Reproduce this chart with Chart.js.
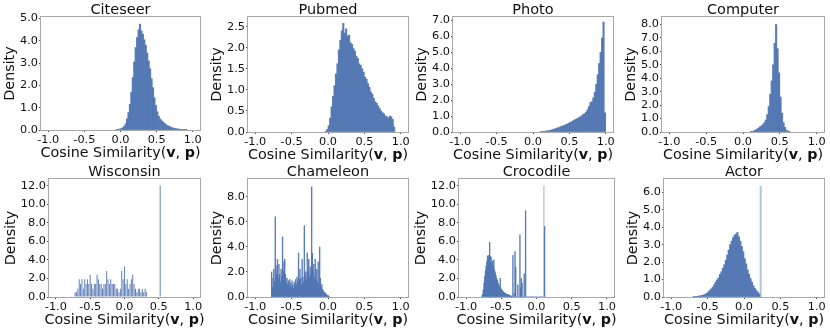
<!DOCTYPE html>
<html>
<head>
<meta charset="utf-8">
<script src="https://cdn.jsdelivr.net/npm/chart.js@4.4.0/dist/chart.umd.min.js"></script>
<style>
  body { margin: 0; background: #fff; }
  #wrap { position: relative; width: 830px; height: 331px; }
  .panel { position: absolute; }
</style>
</head>
<body>
<div id="wrap"></div>
<script>
// ===== data (density per bin) =====
const coarseBin = 0.02;
const fineBin = 0.01;
const xTicks = [-1, -0.5, 0, 0.5, 1];

const citeseerStart = -0.06;
const citeseerDensity = [0.03, 0.02, 0.05, 0.06, 0.1, 0.16, 0.28, 0.5, 0.78, 1.15, 1.7, 2.35, 3.05, 3.7, 4.15, 4.5, 4.75, 4.45, 4.3, 4.05, 3.8, 3.45, 3.1, 2.75, 2.3, 1.9, 1.45, 1.1, 0.82, 0.62, 0.5, 0.42, 0.36, 0.3, 0.24, 0.2, 0.17, 0.14, 0.11, 0.09, 0.07, 0.06, 0.05, 0.04, 0.03, 0.03, 0.02, 0.02, 0.01];
const citeseerTicks = [0, 1, 2, 3, 4, 5];

const pubmedStart = -0.04;
const pubmedDensity = [0.02, 0.06, 0.15, 0.33, 0.6, 0.85, 1.1, 1.38, 1.62, 1.95, 2.18, 2.4, 2.58, 2.35, 2.45, 2.28, 2.3, 2.12, 2.08, 1.98, 1.92, 1.8, 1.75, 1.62, 1.58, 1.5, 1.42, 1.3, 1.25, 1.15, 1.06, 0.95, 0.9, 0.8, 0.72, 0.68, 0.62, 0.56, 0.5, 0.46, 0.43, 0.38, 0.36, 0.33, 0.38, 0.36, 0.3, 0.12];
const pubmedTicks = [0, 0.5, 1, 1.5, 2, 2.5];

const photoStart = 0.10;
const photoDensity = [0.02, 0.03, 0.04, 0.05, 0.07, 0.08, 0.1, 0.12, 0.15, 0.18, 0.21, 0.24, 0.28, 0.31, 0.35, 0.38, 0.42, 0.46, 0.5, 0.55, 0.6, 0.64, 0.7, 0.75, 0.8, 0.85, 0.9, 0.96, 1.02, 1.1, 1.15, 1.25, 1.4, 1.6, 1.85, 1.9, 2.15, 2.5, 3.0, 3.6, 4.3, 5.0, 5.9, 6.9, 1.2];
const photoTicks = [0, 1, 2, 3, 4, 5, 6, 7];

const computerStart = 0.10;
const computerDensity = [0.02, 0.05, 0.1, 0.15, 0.22, 0.3, 0.38, 0.45, 0.55, 0.7, 0.9, 1.3, 1.9, 2.8, 3.8, 5.0, 6.6, 8.0, 6.2, 4.4, 2.6, 1.4, 0.7, 0.35, 0.15, 0.08, 0.03];
const computerTicks = [0, 1, 2, 3, 4, 5, 6, 7, 8];

const wisconsinStart = -0.73;
const wisconsinDensity = [0.5, 0.5, 0.9, 1.9, 1.4, 1.9, 0.9, 1.9, 1.4, 1.9, 1.4, 2.4, 1.4, 0.9, 1.4, 1.4, 2.4, 1.9, 1.4, 1.4, 0.9, 1.4, 1.4, 2.8, 1.9, 1.4, 1.9, 1.4, 1.4, 1.4, 0.9, 0.9, 0.5, 0.9, 2.8, 1.9, 3.3, 1.4, 1.9, 0.9, 1.4, 1.9, 2.4, 1.4, 0.9, 0.5, 0.9, 0.9, 0.5, 0.9, 0.5, 0.9, 0.5, 0, 0, 0, 0, 0, 0, 0, 0, 0, 12.0];
const wisconsinTicks = [0, 2, 4, 6, 8, 10, 12];

const chameleonStart = -0.78;
const chameleonDensity = [2.0, 0.8, 1.5, 2.2, 1.2, 6.4, 2.5, 1.8, 3.0, 1.5, 2.6, 1.8, 1.2, 2.2, 1.6, 4.8, 2.0, 2.8, 3.0, 1.8, 1.2, 1.5, 1.0, 1.3, 0.9, 1.4, 1.1, 0.8, 1.3, 1.0, 0.7, 1.2, 0.9, 1.4, 1.0, 1.6, 1.2, 3.5, 1.4, 2.2, 1.5, 1.0, 3.0, 1.6, 1.2, 5.7, 1.8, 2.0, 1.4, 3.5, 2.0, 3.0, 1.6, 2.4, 1.8, 8.8, 3.5, 2.0, 2.6, 1.6, 3.0, 1.4, 2.2, 1.2, 2.8, 1.0, 4.0, 1.5, 0.8, 1.0, 0.6, 0.5, 0.4, 0.35, 0.3, 0.2, 0.15, 0.1, 0.1, 0.05];
const chameleonTicks = [0, 2, 4, 6, 8];

const crocodileStart = -0.78;
const crocodileDensity = [0.1, 0.3, 0.8, 1.5, 2.2, 2.8, 3.3, 3.8, 4.4, 4.5, 4.2, 5.9, 4.4, 4.3, 3.6, 3.9, 3.3, 4.0, 2.9, 2.6, 2.3, 2.0, 1.8, 1.5, 1.3, 1.1, 2.0, 0.9, 0.8, 0.7, 0.6, 0.5, 0.45, 0.4, 0.35, 0.3, 0.3, 0.25, 0.2, 0.2, 0.15, 0.1, 0.1, 0.05, 4.5, 0, 0.4, 4.9, 3.2, 0, 0, 1.3, 0, 0, 6.7, 1.0, 2.0, 1.5, 0, 0, 2.5, 0, 9.3, 0, 0, 0, 0, 0, 0, 0, 0, 0, 0, 0, 0, 0, 0, 0, 0, 0, 0, 0, 0, 0, 0, 0, 0, 0, 12.0, 7.6];
const crocodileTicks = [0, 2, 4, 6, 8, 10, 12];

const actorStart = -0.70;
const actorDensity = [0.02, 0.03, 0.04, 0.05, 0.06, 0.08, 0.1, 0.13, 0.17, 0.22, 0.3, 0.38, 0.47, 0.57, 0.7, 0.85, 0.98, 1.1, 1.3, 1.45, 1.65, 1.85, 2.1, 2.4, 2.7, 3.0, 3.2, 3.4, 3.55, 3.6, 3.7, 3.45, 3.2, 2.9, 2.6, 2.2, 1.9, 1.55, 1.3, 1.05, 0.85, 0.65, 0.5, 0.38, 0.28, 0.18, 6.35];
const actorTicks = [0, 1, 2, 3, 4, 5, 6];

// ===== layout: canvas cells and plot areas (page px) =====
const colEdges = [0, 205, 412, 618, 830];
const rowEdges = [0, 165, 331];
const FONT = '"DejaVu Sans", sans-serif';
const BAR = 'rgba(76, 114, 176, 0.92)';
const BAR_LIGHT = 'rgba(76, 114, 176, 0.4)';
const FRAME = '#a8a8a8';
const Y_AXIS_W = 30;
const X_AXIS_H = 20;

const panels = [
  { title: 'Citeseer',  start: citeseerStart,  bin: coarseBin, dens: citeseerDensity,  ticks: citeseerTicks,  yMax: 5.07, col: 0, row: 0, area: [41, 200, 17, 130] },
  { title: 'Pubmed',    start: pubmedStart,    bin: coarseBin, dens: pubmedDensity,    ticks: pubmedTicks,    yMax: 2.73, col: 1, row: 0, area: [248, 408, 17, 132] },
  { title: 'Photo',     start: photoStart,     bin: coarseBin, dens: photoDensity,     ticks: photoTicks,     yMax: 7.22, col: 2, row: 0, area: [453, 613, 17, 132] },
  { title: 'Computer',  start: computerStart,  bin: coarseBin, dens: computerDensity,  ticks: computerTicks,  yMax: 8.56, col: 3, row: 0, area: [662, 824, 17, 132] },
  { title: 'Wisconsin', start: wisconsinStart, bin: coarseBin, dens: wisconsinDensity, ticks: wisconsinTicks, yMax: 12.72, col: 0, row: 1, area: [49, 200, 179, 297], barPct: 0.7 },
  { title: 'Chameleon', start: chameleonStart, bin: fineBin,   dens: chameleonDensity, ticks: chameleonTicks, yMax: 9.42, col: 1, row: 1, area: [248, 408, 179, 297] },
  { title: 'Crocodile', start: crocodileStart, bin: fineBin,   dens: crocodileDensity, ticks: crocodileTicks, yMax: 12.72, col: 2, row: 1, area: [459, 614, 179, 297], lightAbove: 10 },
  { title: 'Actor',     start: actorStart,     bin: coarseBin, dens: actorDensity,     ticks: actorTicks,     yMax: 6.76, col: 3, row: 1, area: [664, 824, 179, 297], lightAbove: 5 }
];

// frame, title, axis labels
const panelText = {
  id: 'panelText',
  afterDraw(chart, args, opts) {
    const ctx = chart.ctx;
    const a = chart.chartArea;
    ctx.save();
    ctx.strokeStyle = FRAME;
    ctx.lineWidth = 1;
    ctx.strokeRect(Math.round(a.left) - 0.5, Math.round(a.top) - 0.5,
      Math.round(a.right - a.left) + 1, Math.round(a.bottom - a.top) + 1);

    ctx.fillStyle = '#111';
    const cx = (a.left + a.right) / 2;

    // title
    ctx.font = '14.5px ' + FONT;
    ctx.textAlign = 'center';
    ctx.textBaseline = 'alphabetic';
    ctx.fillText(opts.title, cx, a.top - 3);

    // x label with bold v, p
    const parts = [['Cosine Similarity(', false], ['v', true], [', ', false], ['p', true], [')', false]];
    let total = 0;
    parts.forEach(p => {
      ctx.font = (p[1] ? 'bold ' : '') + '14.3px ' + FONT;
      p.push(ctx.measureText(p[0]).width);
      total += p[2];
    });
    let x = cx - total / 2;
    ctx.textAlign = 'left';
    parts.forEach(p => {
      ctx.font = (p[1] ? 'bold ' : '') + '14.3px ' + FONT;
      ctx.fillText(p[0], x, a.bottom + 27);
      x += p[2];
    });

    // y label
    ctx.font = '11.3px ' + FONT;
    let maxW = 0;
    chart.scales.y.ticks.forEach(t => {
      maxW = Math.max(maxW, ctx.measureText(Number(t.value).toFixed(1)).width);
    });
    const yx = a.left - 3 - maxW - 6;
    ctx.translate(yx, (a.top + a.bottom) / 2);
    ctx.rotate(-Math.PI / 2);
    ctx.font = '14.3px ' + FONT;
    ctx.textAlign = 'center';
    ctx.fillText('Density', 0, 0);
    ctx.restore();
  }
};

const wrap = document.getElementById('wrap');

panels.forEach(p => {
  const cl = colEdges[p.col], cr = colEdges[p.col + 1];
  const rt = rowEdges[p.row], rb = rowEdges[p.row + 1];
  const div = document.createElement('div');
  div.className = 'panel';
  div.style.left = cl + 'px';
  div.style.top = rt + 'px';
  const canvas = document.createElement('canvas');
  canvas.width = cr - cl;
  canvas.height = rb - rt;
  canvas.style.width = (cr - cl) + 'px';
  canvas.style.height = (rb - rt) + 'px';
  div.appendChild(canvas);
  wrap.appendChild(div);

  const [al, ar, at, ab] = p.area;
  const points = p.dens.map((d, i) => ({ x: p.start + p.bin * (i + 0.5), y: d }));

  new Chart(canvas, {
    type: 'bar',
    data: {
      datasets: [{
        data: points,
        backgroundColor: c => (p.lightAbove && c.raw && c.raw.y > p.lightAbove) ? BAR_LIGHT : BAR,
        borderWidth: 0,
        barPercentage: p.barPct || 1,
        categoryPercentage: 1
      }]
    },
    options: {
      responsive: false,
      animation: false,
      devicePixelRatio: 1,
      layout: {
        padding: {
          left: al - cl - Y_AXIS_W,
          right: cr - ar,
          top: at - rt,
          bottom: rb - ab - X_AXIS_H
        }
      },
      plugins: {
        legend: { display: false },
        tooltip: { enabled: false },
        panelText: { title: p.title }
      },
      scales: {
        x: {
          type: 'linear',
          min: -1.1,
          max: 1.1,
          offset: false,
          border: { display: false },
          grid: { display: true, drawOnChartArea: false, drawTicks: true, tickLength: 2, tickColor: '#444', offset: false },
          afterBuildTicks: s => { s.ticks = xTicks.map(v => ({ value: v })); },
          afterFit: s => { s.height = X_AXIS_H; },
          ticks: {
            autoSkip: false,
            maxRotation: 0,
            padding: 1,
            color: '#111',
            font: { family: FONT, size: 11.3 },
            callback: v => Number(v).toFixed(1)
          }
        },
        y: {
          min: 0,
          max: p.yMax,
          border: { display: false },
          grid: { display: true, drawOnChartArea: false, drawTicks: true, tickLength: 2, tickColor: '#444' },
          afterBuildTicks: s => { s.ticks = p.ticks.map(v => ({ value: v })); },
          afterFit: s => { s.width = Y_AXIS_W; },
          ticks: {
            autoSkip: false,
            padding: 1,
            color: '#111',
            font: { family: FONT, size: 11.3 },
            callback: v => Number(v).toFixed(1)
          }
        }
      }
    },
    plugins: [panelText]
  });
});
</script>
</body>
</html>
